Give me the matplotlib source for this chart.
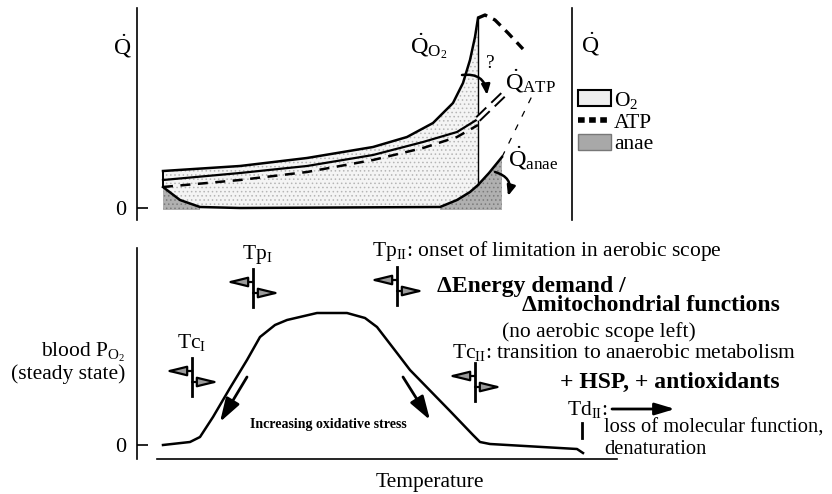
import matplotlib.pyplot as plt
from matplotlib.patches import Patch
from matplotlib.lines import Line2D

plt.rcParams['font.family'] = 'Liberation Serif'
plt.rcParams['mathtext.fontset'] = 'custom'
plt.rcParams['mathtext.rm'] = 'Liberation Serif'
plt.rcParams['mathtext.it'] = 'Liberation Serif:italic'
plt.rcParams['mathtext.bf'] = 'Liberation Serif:bold'
plt.rcParams['hatch.linewidth'] = 0.6

# --- top panel: metabolic rates (schematic units) ---
t_o2 = [26, 103, 170, 236, 270, 296, 316, 326, 333, 338, 341]
q_o2 = [37, 42, 50, 61, 71, 85, 105, 125, 148, 171, 190]
t_atp = [26, 103, 170, 236, 286, 320, 341]
q_atp_solid = [28, 35, 42, 53, 66, 76, 89]
q_atp_dash = [21, 28, 36, 48, 60, 71, 83]
t_anae = [26, 43, 63, 103, 303, 320, 333, 341, 352, 365]
q_anae = [21, 8, 1, 0, 1, 8, 16, 23, 35, 51]
t_peak = [341, 348, 358, 371, 386]
q_peak = [190, 193, 188, 175, 159]
t_atp_ext = [341, 368]
q_atp_ext = [89, 115]
t_anae_ext = [365, 396]
q_anae_ext = [51, 114]

# --- bottom panel: blood PO2 (steady state) ---
t_po2 = [26, 53, 63, 76, 93, 110, 123, 138, 150, 180, 210, 228, 240, 260,
         273, 313, 336, 343, 353, 440, 446]
po2 = [0, 3, 8, 28, 57, 85, 108, 120, 125, 132, 132, 127, 118, 92,
       75, 34, 10, 3, 1, -4, -8]

# threshold temperatures and marker heights
thr_temp = [55, 116, 260, 338]
thr_level = [68, 157, 159, 63]
td_temp = 445

fig = plt.figure(figsize=(8.32, 4.94), dpi=100)

# ================= top panel =================
ax1 = fig.add_axes([137 / 832, 1 - 220 / 494, 435 / 832, 212 / 494])
ax1.set_xlim(0, 435)
ax1.set_ylim(-12, 200)

with plt.rc_context({'hatch.color': '#b5b5b5'}):
    ax1.fill(t_o2 + t_anae[7::-1], q_o2 + q_anae[7::-1],
             facecolor='#f4f4f4', hatch='....', linewidth=0)
with plt.rc_context({'hatch.color': '#7a7a7a'}):
    ax1.fill_between(t_anae[:3], q_anae[:3], -2, facecolor='#b0b0b0',
                     hatch='....', linewidth=0)
    ax1.fill_between(t_anae[4:], q_anae[4:], -2, facecolor='#b0b0b0',
                     hatch='....', linewidth=0)

ax1.plot(t_o2, q_o2, color='black', lw=1.8)
ax1.plot(t_atp, q_atp_solid, color='black', lw=1.6)
ax1.plot(t_atp, q_atp_dash, color='black', lw=1.8, dashes=(4, 3))
ax1.plot(t_anae, q_anae, color='black', lw=1.8)
ax1.plot([t_o2[0]] * 2, [q_anae[0], q_o2[0]], color='black', lw=1.4)
ax1.plot([t_o2[-1]] * 2, [q_anae[7], q_o2[-1]], color='black', lw=1.0)
ax1.plot(t_peak, q_peak, color='black', lw=2.4, dashes=(3, 2))
ax1.plot(t_atp_ext, q_atp_ext, color='black', lw=5, dashes=(2, 1))
ax1.plot(t_atp_ext, q_atp_ext, color='white', lw=2.2)
ax1.plot(t_anae_ext, q_anae_ext, color='black', lw=0.9, dashes=(5, 7))

ax1.annotate('', xy=(350, 113), xytext=(325, 133),
             arrowprops=dict(arrowstyle='-|>,head_length=0.6,head_width=0.25',
                             connectionstyle='arc3,rad=-0.5', color='black',
                             lw=1.8, shrinkA=0, shrinkB=0))
ax1.annotate('', xy=(371, 12), xytext=(358, 36),
             arrowprops=dict(arrowstyle='-|>,head_length=0.6,head_width=0.25',
                             connectionstyle='arc3,rad=-0.5', color='black',
                             lw=1.8, shrinkA=0, shrinkB=0))

ax1.text(353, 140, '?', fontsize=14, ha='center', va='baseline')
ax1.text(273, 155, r'$\dot{\mathrm{Q}}_{\mathrm{O}_2}$', fontsize=17.5, va='baseline')
ax1.text(368, 118, r'$\dot{\mathrm{Q}}_{\mathrm{ATP}}$', fontsize=17.5, va='baseline')
ax1.text(371, 41, r'$\dot{\mathrm{Q}}_{\mathrm{anae}}$', fontsize=17.5, va='baseline')
ax1.text(-15, 153, r'$\dot{\mathrm{Q}}$', fontsize=17, ha='center', va='baseline')
ax1.text(453, 155, r'$\dot{\mathrm{Q}}$', fontsize=17, ha='center', va='baseline')

for s in ['top', 'bottom']:
    ax1.spines[s].set_visible(False)
ax1.spines['left'].set_linewidth(1.2)
ax1.spines['right'].set_linewidth(1.2)
ax1.set_xticks([])
ax1.set_yticks([0])
ax1.set_yticklabels(['0'], fontsize=16)
ax1.tick_params(axis='y', direction='in', length=8, width=1.2, pad=8)

handles = [Patch(facecolor='#efefef', edgecolor='black', lw=1.5),
           Line2D([], [], color='black', lw=4, dashes=(1.2, 0.8)),
           Patch(facecolor='#a8a8a8', edgecolor='#777777', lw=1)]
ax1.legend(handles, [r'O$_2$', 'ATP', 'anae'], loc='upper left',
           bbox_to_anchor=(1.0, 0.645), frameon=False, fontsize=15.5,
           handlelength=1.5, handleheight=0.8, handletextpad=0.15,
           labelspacing=0.05, borderpad=0.1, borderaxespad=0.2)

# ================= bottom panel =================
ax2 = fig.add_axes([137 / 832, 1 - 459 / 494, 695 / 832, 211 / 494])
ax2.set_xlim(0, 695)
ax2.set_ylim(-14, 197)

ax2.plot(t_po2, po2, color='black', lw=1.8)

gray_head = dict(arrowstyle='-|>,head_length=0.9,head_width=0.22',
                 facecolor='#9a9a9a', edgecolor='black', lw=1.6,
                 shrinkA=0, shrinkB=0, mutation_scale=14)
for t, lv in zip(thr_temp, thr_level):
    ax2.plot([t, t], [lv - 19, lv + 19], color='black', lw=2)
    ax2.annotate('', xy=(t - 27, lv + 6), xytext=(t, lv + 6), arrowprops=gray_head)
    ax2.annotate('', xy=(t + 27, lv - 5), xytext=(t, lv - 5), arrowprops=gray_head)

ax2.plot([td_temp, td_temp], [7, 22], color='black', lw=2)
ax2.annotate('', xy=(538, 36), xytext=(475, 36),
             arrowprops=dict(arrowstyle='-|>,head_length=1.0,head_width=0.3',
                             color='black', lw=2, shrinkA=0, shrinkB=0,
                             mutation_scale=12))

black_head = dict(arrowstyle='-|>,head_length=1.1,head_width=0.35',
                  color='black', lw=2, shrinkA=0, shrinkB=0, mutation_scale=13)
ax2.annotate('', xy=(83, 23), xytext=(110, 68), arrowprops=black_head)
ax2.annotate('', xy=(293, 25), xytext=(266, 68), arrowprops=black_head)

fs = 15.5
ax2.text(120, 186, r'Tp$_{\mathrm{I}}$', fontsize=fs, ha='center', va='baseline')
ax2.text(55, 97, r'Tc$_{\mathrm{I}}$', fontsize=fs, ha='center', va='baseline')
ax2.text(235, 189, r'Tp$_{\mathrm{II}}$: onset of limitation in aerobic scope',
         fontsize=fs, va='baseline')
ax2.text(300, 153, 'ΔEnergy demand /', fontsize=17, fontweight='bold', va='baseline')
ax2.text(385, 134, 'Δmitochondrial functions', fontsize=17, fontweight='bold',
         va='baseline')
ax2.text(365, 108, '(no aerobic scope left)', fontsize=fs, va='baseline')
ax2.text(315, 87, r'Tc$_{\mathrm{II}}$: transition to anaerobic metabolism',
         fontsize=fs, va='baseline')
ax2.text(423, 57, '+ HSP, + antioxidants', fontsize=17, fontweight='bold',
         va='baseline')
ax2.text(430, 30, r'Td$_{\mathrm{II}}$:', fontsize=fs, va='baseline')
ax2.text(467, 12, 'loss of molecular function,', fontsize=14.8, va='baseline')
ax2.text(467, -9, 'denaturation', fontsize=14.8, va='baseline')
ax2.text(191, 17, 'Increasing oxidative stress', fontsize=10, fontweight='bold',
         ha='center', va='baseline')
ax2.text(-12, 88, r'blood P$_{\mathrm{O}_2}$', fontsize=fs, ha='right', va='baseline')
ax2.text(-12, 66, '(steady state)', fontsize=fs, ha='right', va='baseline')
ax2.text(293, -42, 'Temperature', fontsize=fs, ha='center', va='baseline')

for s in ['top', 'right']:
    ax2.spines[s].set_visible(False)
ax2.spines['left'].set_linewidth(1.2)
ax2.spines['bottom'].set_linewidth(1.2)
ax2.spines['bottom'].set_bounds(20, 480)
ax2.set_xticks([])
ax2.set_yticks([0])
ax2.set_yticklabels(['0'], fontsize=16)
ax2.tick_params(axis='y', direction='in', length=8, width=1.2, pad=8)

fig.savefig('out.png', dpi=100)
